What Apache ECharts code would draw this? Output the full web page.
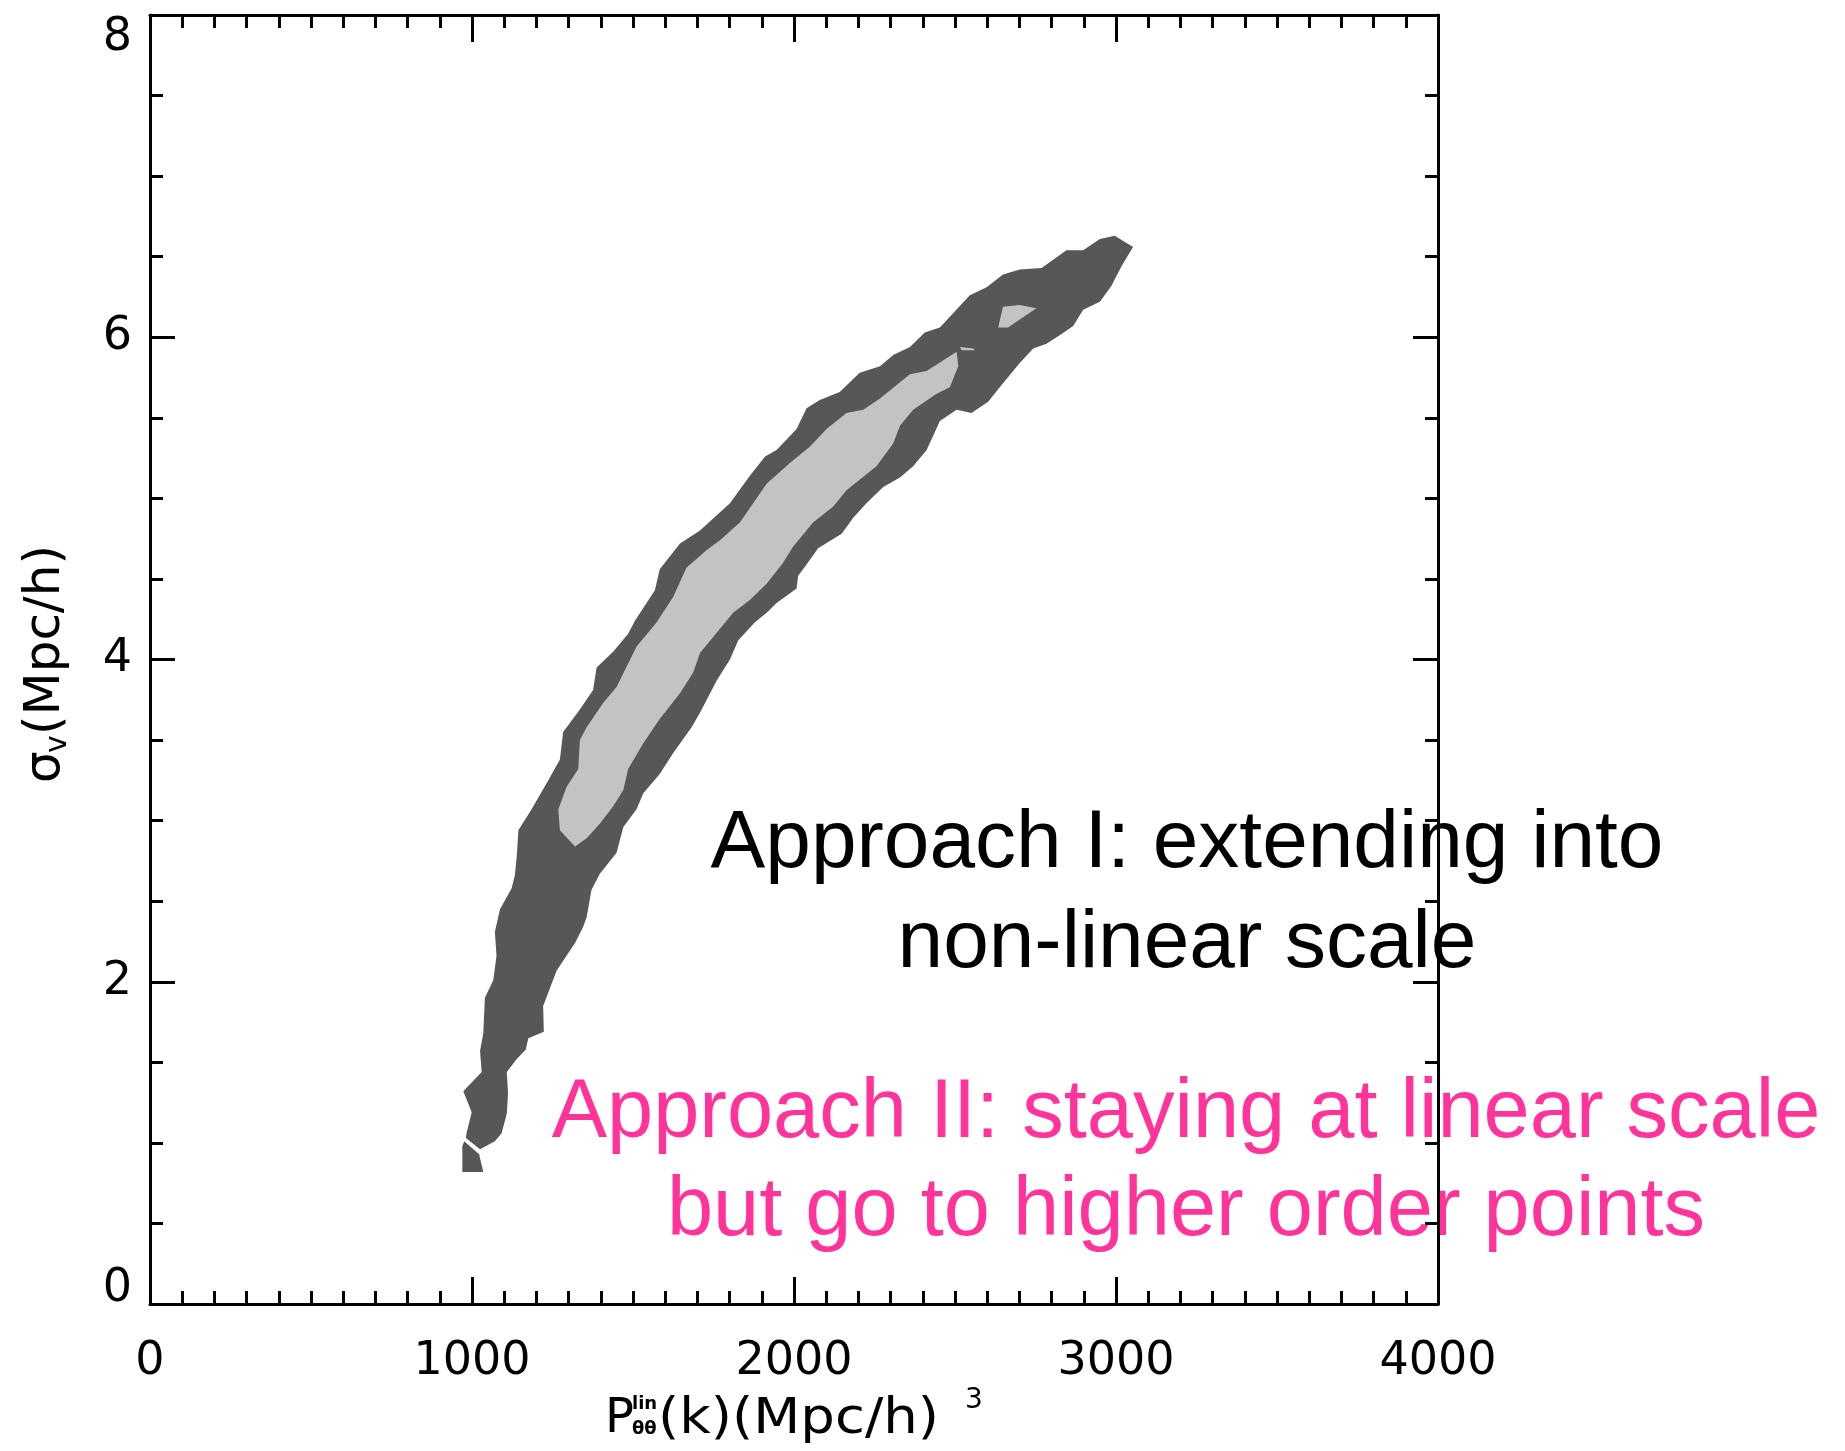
<!DOCTYPE html>
<html>
<head>
<meta charset="utf-8">
<title>sigma_v vs P_lin</title>
<script src="https://cdn.jsdelivr.net/npm/echarts@6.0.0/dist/echarts.min.js"></script>
<style>
	html, body { margin: 0; padding: 0; background: #fff; }
	#chartDiv { width: 1845px; height: 1451px; }
</style>
</head>
<body>
<div id="chartDiv"></div>
<script>
// contour outlines, [P_lin, sigma_v]
var outerMain = [[983, 1.06], [999, 1.19], [973, 1.32], [1030, 1.44], [1025, 1.57], [1035, 1.68], [1040, 1.90], [1066, 2.01], [1076, 2.16], [1071, 2.31], [1087, 2.45], [1123, 2.58], [1133, 2.66], [1139, 2.78], [1144, 2.94], [1185, 3.07], [1237, 3.25], [1273, 3.38], [1283, 3.55], [1335, 3.69], [1376, 3.81], [1387, 3.95], [1439, 4.05], [1485, 4.16], [1506, 4.24], [1568, 4.43], [1583, 4.56], [1646, 4.72], [1708, 4.80], [1801, 4.97], [1863, 5.14], [1910, 5.26], [1946, 5.30], [2008, 5.43], [2039, 5.56], [2080, 5.61], [2142, 5.66], [2204, 5.78], [2267, 5.82], [2308, 5.89], [2360, 5.94], [2406, 6.03], [2453, 6.06], [2546, 6.26], [2598, 6.31], [2649, 6.39], [2701, 6.42], [2769, 6.43], [2846, 6.54], [2898, 6.54], [2950, 6.61], [2996, 6.63], [3053, 6.56],
	[3017, 6.44], [2986, 6.32], [2950, 6.22], [2898, 6.17], [2867, 6.07], [2831, 6.02], [2784, 5.96], [2743, 5.93], [2701, 5.84], [2639, 5.69], [2603, 5.60], [2551, 5.53], [2505, 5.55], [2453, 5.48], [2412, 5.30], [2370, 5.20], [2329, 5.13], [2277, 5.07], [2225, 4.97], [2184, 4.88], [2148, 4.78], [2075, 4.69], [2039, 4.59], [2013, 4.52], [2008, 4.44], [1946, 4.35], [1915, 4.29], [1878, 4.23], [1827, 4.12], [1801, 4.00], [1760, 3.87], [1708, 3.67], [1682, 3.58], [1625, 3.42], [1583, 3.29], [1532, 3.17], [1511, 3.07], [1470, 2.96], [1454, 2.84], [1449, 2.80], [1397, 2.67], [1371, 2.57], [1356, 2.40], [1345, 2.34], [1320, 2.24], [1263, 2.07], [1221, 1.85], [1223, 1.69], [1175, 1.65], [1167, 1.58], [1139, 1.52], [1108, 1.44], [1112, 1.31], [1108, 1.18], [1092, 1.06], [1071, 1.01], [1025, 0.96], [981, 1.03]];
var outerTip = [[970, 0.82], [970, 0.98], [976, 1.01], [1022, 0.93], [1035, 0.82]];
var innerMain = [[1320, 2.84], [1273, 2.94], [1268, 3.07], [1294, 3.21], [1330, 3.32], [1335, 3.50], [1356, 3.58], [1407, 3.73], [1449, 3.83], [1511, 4.08], [1573, 4.23], [1625, 4.39], [1666, 4.57], [1729, 4.68], [1770, 4.74], [1832, 4.85], [1915, 5.09], [1987, 5.22], [2049, 5.32], [2101, 5.43], [2163, 5.53], [2215, 5.55], [2267, 5.62], [2360, 5.77], [2412, 5.79], [2505, 5.91],
	[2510, 5.82], [2484, 5.69], [2443, 5.65], [2370, 5.55], [2329, 5.45], [2308, 5.34], [2256, 5.20], [2163, 5.05], [2122, 4.95], [2059, 4.85], [1997, 4.70], [1966, 4.60], [1915, 4.47], [1863, 4.37], [1811, 4.29], [1749, 4.14], [1708, 4.04], [1687, 3.92], [1646, 3.79], [1583, 3.63], [1532, 3.48], [1485, 3.32], [1470, 3.19], [1439, 3.09], [1397, 2.98], [1356, 2.89]];
var innerIsland = [[2649, 6.19], [2701, 6.20], [2753, 6.18], [2701, 6.11], [2665, 6.06], [2634, 6.06]];
var innerSliver = [[2515, 5.94], [2556, 5.93], [2562, 5.92], [2521, 5.92]];

var noteBlack = ['Approach I: extending into', 'non-linear scale'];
var notePink = ['Approach II: staying at linear scale', 'but go to higher order points'];

var outerPolys = [outerMain, outerTip];
var innerPolys = [innerMain, innerIsland, innerSliver];

var chart1 = echarts.init(document.getElementById('chartDiv'));

function contourSeries(name, polys, color) {
	return {
		name: name,
		type: 'custom',
		coordinateSystem: 'cartesian2d',
		silent: true,
		animation: false,
		data: polys.map(function (p) { return [p[0][0], p[0][1]]; }),
		renderItem: function (params, api) {
			var poly = polys[params.dataIndex];
			var points = [];
			for (var i = 0; i < poly.length; i++) {
				points.push(api.coord(poly[i]));
			}
			return {
				type: 'polygon',
				shape: { points: points },
				style: { fill: color }
			};
		}
	};
}

function makeAxis(pos, min, max, interval, minorSplit, tickLen, showLabel) {
	return {
		type: 'value',
		position: pos,
		min: min,
		max: max,
		interval: interval,
		z: 10,
		axisLine: { show: true, onZero: false, lineStyle: { color: '#000', width: 3 } },
		axisTick: { show: true, inside: true, length: tickLen, lineStyle: { color: '#000', width: 3 } },
		minorTick: { show: true, splitNumber: minorSplit, length: 13, lineStyle: { color: '#000', width: 3 } },
		splitLine: { show: false },
		axisLabel: { show: showLabel, color: '#000', fontSize: 46, fontFamily: 'DejaVu Sans' }
	};
}

var xBottom = makeAxis('bottom', 0, 4000, 1000, 10, 27, true);
xBottom.axisLabel.margin = 35;
xBottom.axisLabel.formatter = function (v) { return String(v); };
var xTop = makeAxis('top', 0, 4000, 1000, 10, 27, false);
var yLeft = makeAxis('left', 0, 8, 2, 4, 25, true);
yLeft.axisLabel.margin = 18;
yLeft.axisLabel.verticalAlignMinLabel = 'middle';
yLeft.axisLabel.verticalAlignMaxLabel = 'top';
yLeft.axisLabel.formatter = function (v) {
	return v === 0 ? '{low|0}' : String(v);
};
yLeft.axisLabel.rich = {
	low: { fontSize: 46, fontFamily: 'DejaVu Sans', color: '#000', padding: [0, 0, 30, 0] }
};
var yRight = makeAxis('right', 0, 8, 2, 4, 25, false);

var option = {
	backgroundColor: '#fff',
	animation: false,
	grid: {
		left: 150,
		top: 15,
		right: 407,
		bottom: 147
	},
	xAxis: [xBottom, xTop],
	yAxis: [yLeft, yRight],
	series: [
		contourSeries('outer', outerPolys, '#575757'),
		contourSeries('inner', innerPolys, '#c3c3c3')
	],
	graphic: [
		{
			type: 'text', x: 1187, y: 894, z: 1,
			style: {
				text: noteBlack.join('\n'), fill: '#000', fontSize: 82, fontFamily: 'Liberation Sans',
				align: 'center', verticalAlign: 'middle', lineHeight: 100
			}
		},
		{
			type: 'text', x: 1186, y: 1163, z: 1,
			style: {
				text: notePink.join('\n'), fill: '#ff3399', fontSize: 83, fontFamily: 'Liberation Sans',
				align: 'center', verticalAlign: 'middle', lineHeight: 98
			}
		},
		// x axis title
		{
			type: 'text', x: 605, y: 1420,
			style: { text: 'P', fill: '#000', fontSize: 48, fontFamily: 'DejaVu Sans', verticalAlign: 'middle' }
		},
		{
			type: 'text', x: 632, y: 1404,
			style: { text: 'lin', fill: '#000', fontSize: 18, fontWeight: 'bold', fontFamily: 'DejaVu Sans', verticalAlign: 'middle' }
		},
		{
			type: 'text', x: 632, y: 1429,
			style: { text: 'θθ', fill: '#000', fontSize: 18, fontWeight: 'bold', fontFamily: 'DejaVu Sans', verticalAlign: 'middle' }
		},
		{
			type: 'text', x: 658, y: 1420, scaleX: 1.09,
			style: { text: '(k)(Mpc/h)', fill: '#000', fontSize: 50, fontFamily: 'DejaVu Sans', verticalAlign: 'middle' }
		},
		{
			type: 'text', x: 965, y: 1401,
			style: { text: '3', fill: '#000', fontSize: 28, fontFamily: 'DejaVu Sans', verticalAlign: 'middle' }
		},
		// y axis title
		{
			type: 'group', x: 46, y: 663, rotation: Math.PI / 2,
			children: [
				{ type: 'text', x: -120, y: 0, style: { text: 'σ', fill: '#000', fontSize: 50, fontFamily: 'DejaVu Sans', verticalAlign: 'middle' } },
				{ type: 'text', x: -90, y: 12, style: { text: 'v', fill: '#000', fontSize: 30, fontFamily: 'DejaVu Sans', verticalAlign: 'middle' } },
				{ type: 'text', x: -72, y: 0, style: { text: '(Mpc/h)', fill: '#000', fontSize: 50, fontFamily: 'DejaVu Sans', verticalAlign: 'middle' } }
			]
		}
	]
};

chart1.setOption(option, true);
</script>
</body>
</html>
